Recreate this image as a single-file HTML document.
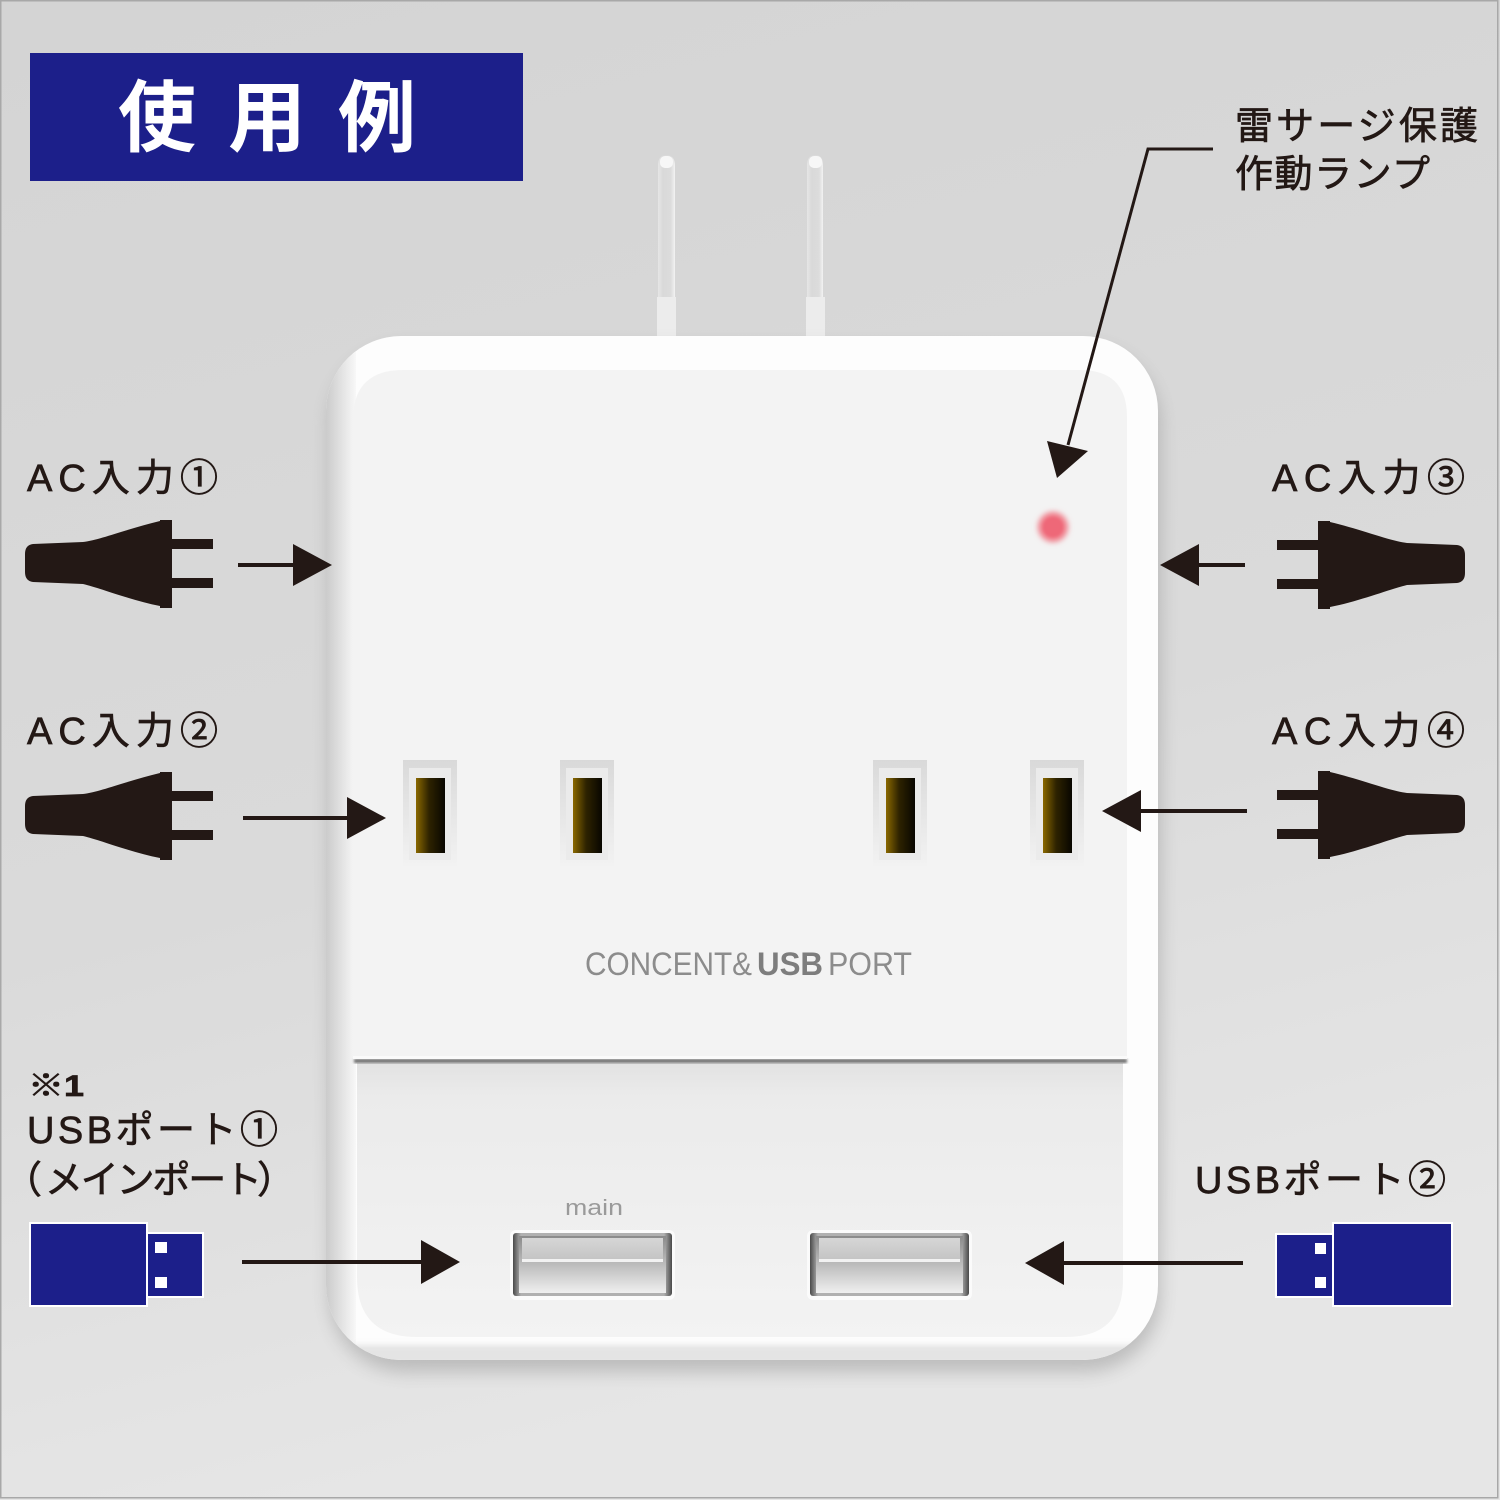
<!DOCTYPE html>
<html><head><meta charset="utf-8">
<style>
html,body{margin:0;padding:0;width:1500px;height:1500px;overflow:hidden;background:#dcdcdc}
svg{display:block}
text{font-family:"Liberation Sans","Noto Sans CJK JP",sans-serif}
</style></head><body>
<svg width="1500" height="1500" viewBox="0 0 1500 1500" xmlns="http://www.w3.org/2000/svg">
<defs>
 <linearGradient id="bg" x1="0" y1="0" x2="0.25" y2="1">
  <stop offset="0" stop-color="#d4d4d4"/>
  <stop offset="0.6" stop-color="#dadada"/>
  <stop offset="1" stop-color="#e6e6e6"/>
 </linearGradient>
 <linearGradient id="leftShade" x1="0" x2="1" y1="0" y2="0">
  <stop offset="0" stop-color="#cbcbcb"/><stop offset="1" stop-color="#f8f8f8"/>
 </linearGradient>
 <linearGradient id="lower" x1="0" y1="0" x2="0" y2="1">
  <stop offset="0" stop-color="#e2e2e2"/><stop offset="0.12" stop-color="#ebebeb"/><stop offset="1" stop-color="#f3f3f3"/>
 </linearGradient>
 <linearGradient id="slot" x1="0" x2="1" y1="0" y2="0">
  <stop offset="0" stop-color="#8a6800"/><stop offset="0.45" stop-color="#2e2300"/><stop offset="1" stop-color="#080600"/>
 </linearGradient>
 <linearGradient id="bevel" x1="0" x2="0" y1="0" y2="1">
  <stop offset="0" stop-color="#d9d9d9"/><stop offset="0.5" stop-color="#e6e6e6"/><stop offset="1" stop-color="#f2f2f2"/>
 </linearGradient>
 <linearGradient id="usbLow" x1="0" x2="0" y1="0" y2="1">
  <stop offset="0" stop-color="#8a8a8a"/><stop offset="1" stop-color="#efefef"/>
 </linearGradient>
 <linearGradient id="usbTop" x1="0" x2="0" y1="0" y2="1">
  <stop offset="0" stop-color="#d6d6d6"/><stop offset="1" stop-color="#c4c4c4"/>
 </linearGradient>
 <linearGradient id="usbSide" x1="0" x2="1" y1="0" y2="0">
  <stop offset="0" stop-color="#4a4a4a"/><stop offset="0.05" stop-color="#b0b0b0"/><stop offset="0.95" stop-color="#b0b0b0"/><stop offset="1" stop-color="#4a4a4a"/>
 </linearGradient>
 <linearGradient id="prong" x1="0" x2="1" y1="0" y2="0">
  <stop offset="0" stop-color="#e6e6e6"/><stop offset="0.3" stop-color="#d9d9d9"/><stop offset="0.75" stop-color="#dcdcdc"/><stop offset="1" stop-color="#f2f2f2"/>
 </linearGradient>
 <filter id="b1" x="-20%" y="-20%" width="140%" height="140%"><feGaussianBlur stdDeviation="1.2"/></filter>
 <filter id="b3" x="-50%" y="-50%" width="200%" height="200%"><feGaussianBlur stdDeviation="3"/></filter>
 <filter id="sh" x="-10%" y="-10%" width="120%" height="130%"><feGaussianBlur stdDeviation="9"/></filter>
 <clipPath id="outerClip"><rect x="326" y="336" width="832" height="1024" rx="75"/></clipPath>
 <path id="plug" d="M33 -20 L83 -22 C100 -24 130 -36 160 -43 L160 -44 L172 -44 L172 44 L160 44 L160 42 C130 36 100 24 83 20 L33 18 Q25 17 25 8 L25 -10 Q25 -19 33 -20 Z M172 -25 L213 -25 L213 -15 L172 -15 Z M172 14 L213 14 L213 24 L172 24 Z" fill="#231815"/>
</defs>

<rect width="1500" height="1500" fill="url(#bg)"/>
<rect x="0.75" y="0.75" width="1497" height="1497" fill="none" stroke="#a8a8a8" stroke-width="1.5"/>

<!-- title -->
<rect x="30" y="53" width="493" height="128" fill="#1c1f8a"/>
<text x="118" y="145" font-size="78" font-weight="bold" fill="#ffffff">使</text>
<text x="228" y="145" font-size="78" font-weight="bold" fill="#ffffff">用</text>
<text x="338" y="145" font-size="78" font-weight="bold" fill="#ffffff">例</text>

<!-- prongs -->
<path d="M658 336 L658 166 Q658 155 666 155 Q675 155 675 166 L675 336 Z" fill="url(#prong)"/>
<path d="M807 336 L807 166 Q807 155 815 155 Q823 155 823 166 L823 336 Z" fill="url(#prong)"/>
<rect x="660" y="156" width="13" height="12" rx="5" fill="#f7f7f7"/>
<rect x="809" y="156" width="13" height="12" rx="5" fill="#f7f7f7"/>
<rect x="657" y="297" width="19" height="40" fill="#ececec"/>
<rect x="806" y="297" width="19" height="40" fill="#ececec"/>

<!-- body shadow -->
<rect x="330" y="348" width="830" height="1024" rx="75" fill="#8a8a8a" opacity="0.45" filter="url(#sh)"/>
<!-- body outer -->
<rect x="326" y="336" width="832" height="1024" rx="75" fill="#fdfdfd"/>
<g clip-path="url(#outerClip)">
 <rect x="326" y="336" width="30" height="1024" fill="url(#leftShade)"/>
 <rect x="326" y="1345" width="832" height="20" fill="#e4e4e4" filter="url(#b3)"/>
</g>
<!-- upper face -->
<path d="M353 1060 L353 420 Q353 370 403 370 L1080 370 Q1127 370 1127 417 L1127 1060 Z" fill="#f3f3f3"/>
<!-- lower section -->
<path d="M357 1063 L1123 1063 L1123 1280 Q1123 1337 1066 1337 L417 1337 Q357 1337 357 1277 Z" fill="url(#lower)"/>
<rect x="354" y="1059" width="773" height="4" fill="#6e6e6e" filter="url(#b1)"/>
<rect x="353" y="1056" width="774" height="3" fill="#fafafa"/>

<!-- LED -->
<circle cx="1053" cy="527" r="15" fill="#f07c88" filter="url(#b3)"/>
<circle cx="1053" cy="527" r="10" fill="#ee6878" filter="url(#b1)"/>

<!-- outlets -->
<g>
 <rect x="403" y="760" width="54" height="106" fill="url(#bevel)"/>
 <rect x="409" y="768" width="42" height="92" fill="#ebebeb"/>
 <rect x="416" y="778" width="29" height="75" fill="url(#slot)"/>
</g>
<g>
 <rect x="560" y="760" width="54" height="106" fill="url(#bevel)"/>
 <rect x="566" y="768" width="42" height="92" fill="#ebebeb"/>
 <rect x="573" y="778" width="29" height="75" fill="url(#slot)"/>
</g>
<g>
 <rect x="873" y="760" width="54" height="106" fill="url(#bevel)"/>
 <rect x="879" y="768" width="42" height="92" fill="#ebebeb"/>
 <rect x="886" y="778" width="29" height="75" fill="url(#slot)"/>
</g>
<g>
 <rect x="1030" y="760" width="54" height="106" fill="url(#bevel)"/>
 <rect x="1036" y="768" width="42" height="92" fill="#ebebeb"/>
 <rect x="1043" y="778" width="29" height="75" fill="url(#slot)"/>
</g>

<!-- brand text -->
<text x="585" y="975" font-size="32" fill="#8c8c8c" textLength="167" lengthAdjust="spacingAndGlyphs">CONCENT&amp;</text>
<text x="757" y="975" font-size="32" font-weight="bold" fill="#7d7d7d" textLength="66" lengthAdjust="spacingAndGlyphs">USB</text>
<text x="828" y="975" font-size="32" fill="#8c8c8c" textLength="84" lengthAdjust="spacingAndGlyphs">PORT</text>

<!-- USB ports -->
<g>
 <rect x="510" y="1230" width="165" height="70" rx="6" fill="#fbfbfb"/>
 <rect x="513" y="1233" width="159" height="63" rx="3" fill="url(#usbSide)"/>
 <rect x="519" y="1236" width="147" height="57" fill="url(#usbLow)"/>
 <rect x="522" y="1238" width="141" height="22" fill="url(#usbTop)"/>
 <rect x="522" y="1259" width="141" height="3" fill="#f2f2f2"/>
 <text x="565" y="1215" font-size="22" fill="#9a9a9a" textLength="58" lengthAdjust="spacingAndGlyphs">main</text>
</g>
<g>
 <rect x="807" y="1230" width="165" height="70" rx="6" fill="#fbfbfb"/>
 <rect x="810" y="1233" width="159" height="63" rx="3" fill="url(#usbSide)"/>
 <rect x="816" y="1236" width="147" height="57" fill="url(#usbLow)"/>
 <rect x="819" y="1238" width="141" height="22" fill="url(#usbTop)"/>
 <rect x="819" y="1259" width="141" height="3" fill="#f2f2f2"/>
</g>

<!-- leader for lamp -->
<polyline points="1213,149 1148,149 1068,445" fill="none" stroke="#231815" stroke-width="3"/>
<polygon points="1057,478 1047,441 1088,451" fill="#231815"/>

<!-- labels -->
<g fill="#231815" stroke="#231815" stroke-width="0.7">
 <text x="1235" y="139" font-size="38" textLength="243" lengthAdjust="spacing">雷サージ保護</text>
 <text x="1235" y="187" font-size="38" textLength="195" lengthAdjust="spacing">作動ランプ</text>
 <text x="27" y="491" font-size="38" textLength="191" lengthAdjust="spacing">AC入力①</text>
 <text x="27" y="744" font-size="38" textLength="191" lengthAdjust="spacing">AC入力②</text>
 <text x="1272" y="491" font-size="38" textLength="193" lengthAdjust="spacing">AC入力③</text>
 <text x="1272" y="744" font-size="38" textLength="193" lengthAdjust="spacing">AC入力④</text>
 <text x="28" y="1096" font-size="30" font-weight="bold" textLength="56" lengthAdjust="spacingAndGlyphs">※1</text>
 <text x="27" y="1143" font-size="38" textLength="251" lengthAdjust="spacing">USBポート①</text>
 <text x="4" y="1193" font-size="38">（</text>
 <text x="45" y="1193" font-size="38" textLength="217" lengthAdjust="spacing">メインポート</text>
 <text x="257" y="1193" font-size="38">）</text>
 <text x="1195" y="1193" font-size="38" textLength="251" lengthAdjust="spacing">USBポート②</text>
</g>

<!-- plugs -->
<use href="#plug" transform="translate(0,564)"/>
<use href="#plug" transform="translate(0,816)"/>
<use href="#plug" transform="translate(1490,565) scale(-1,1)"/>
<use href="#plug" transform="translate(1490,815) scale(-1,1)"/>

<!-- arrows -->
<g fill="#231815" stroke="#231815">
 <line x1="238" y1="565" x2="300" y2="565" stroke-width="4"/>
 <polygon points="332,565 293,544 293,586" stroke="none"/>
 <line x1="243" y1="818" x2="352" y2="818" stroke-width="4"/>
 <polygon points="386,818 347,797 347,839" stroke="none"/>
 <line x1="1245" y1="565" x2="1192" y2="565" stroke-width="4"/>
 <polygon points="1160,565 1199,544 1199,586" stroke="none"/>
 <line x1="1247" y1="811" x2="1135" y2="811" stroke-width="4"/>
 <polygon points="1102,811 1141,790 1141,832" stroke="none"/>
 <line x1="242" y1="1262" x2="428" y2="1262" stroke-width="4"/>
 <polygon points="460,1262 421,1240 421,1284" stroke="none"/>
 <line x1="1243" y1="1263" x2="1058" y2="1263" stroke-width="4"/>
 <polygon points="1025,1263 1064,1241 1064,1285" stroke="none"/>
</g>

<!-- USB plug icons -->
<g stroke="#ffffff" stroke-width="2" fill="#1c1f8a">
 <rect x="30" y="1223" width="117" height="83"/>
 <rect x="147" y="1233" width="56" height="64"/>
 <rect x="1276" y="1234" width="57" height="63"/>
 <rect x="1333" y="1223" width="119" height="83"/>
</g>
<g fill="#ffffff">
 <rect x="155" y="1242" width="12" height="11"/>
 <rect x="155" y="1277" width="12" height="11"/>
 <rect x="1315" y="1243" width="11" height="11"/>
 <rect x="1315" y="1277" width="11" height="11"/>
</g>
</svg>
</body></html>
